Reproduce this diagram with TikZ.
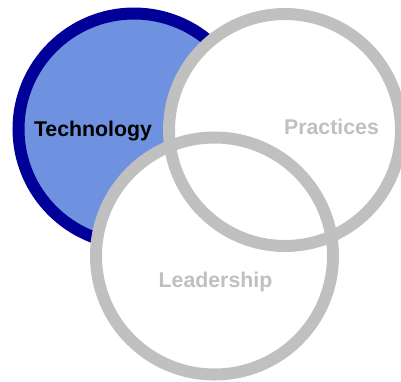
\documentclass[tikz,border=0pt]{standalone}
\usepackage{fontspec}
\setmainfont{Liberation Sans}
\definecolor{techfill}{RGB}{111,146,224}
\definecolor{techring}{RGB}{0,0,153}
\definecolor{ringgray}{RGB}{192,192,192}
\begin{document}
\begin{tikzpicture}[x=1pt,y=-1pt,
  ringline/.style={line width=12pt},
  lbl/.style={font=\bfseries\fontsize{21.3}{21.3}\selectfont, anchor=base, inner sep=0pt}]
\useasboundingbox (0,0) rectangle (401,381);
% Technology
\path[fill=techfill, draw=techring, ringline] (134,129) circle (115.5);
% white interiors
\path[fill=white] (285,130) circle (116);
\path[fill=white] (214.5,256) circle (118.5);
% gray rings
\path[draw=ringgray, ringline] (285,130) circle (116);
\path[draw=ringgray, ringline] (214.5,256) circle (118.5);
% labels
\node[lbl, text=black] (tech) at (93,136) {Technology};
\node[lbl, text=ringgray] (prac) at (331.5,134.5) {Practices};
\node[lbl, text=ringgray] (lead) at (215.5,287) {Leadership};
\end{tikzpicture}
\end{document}
